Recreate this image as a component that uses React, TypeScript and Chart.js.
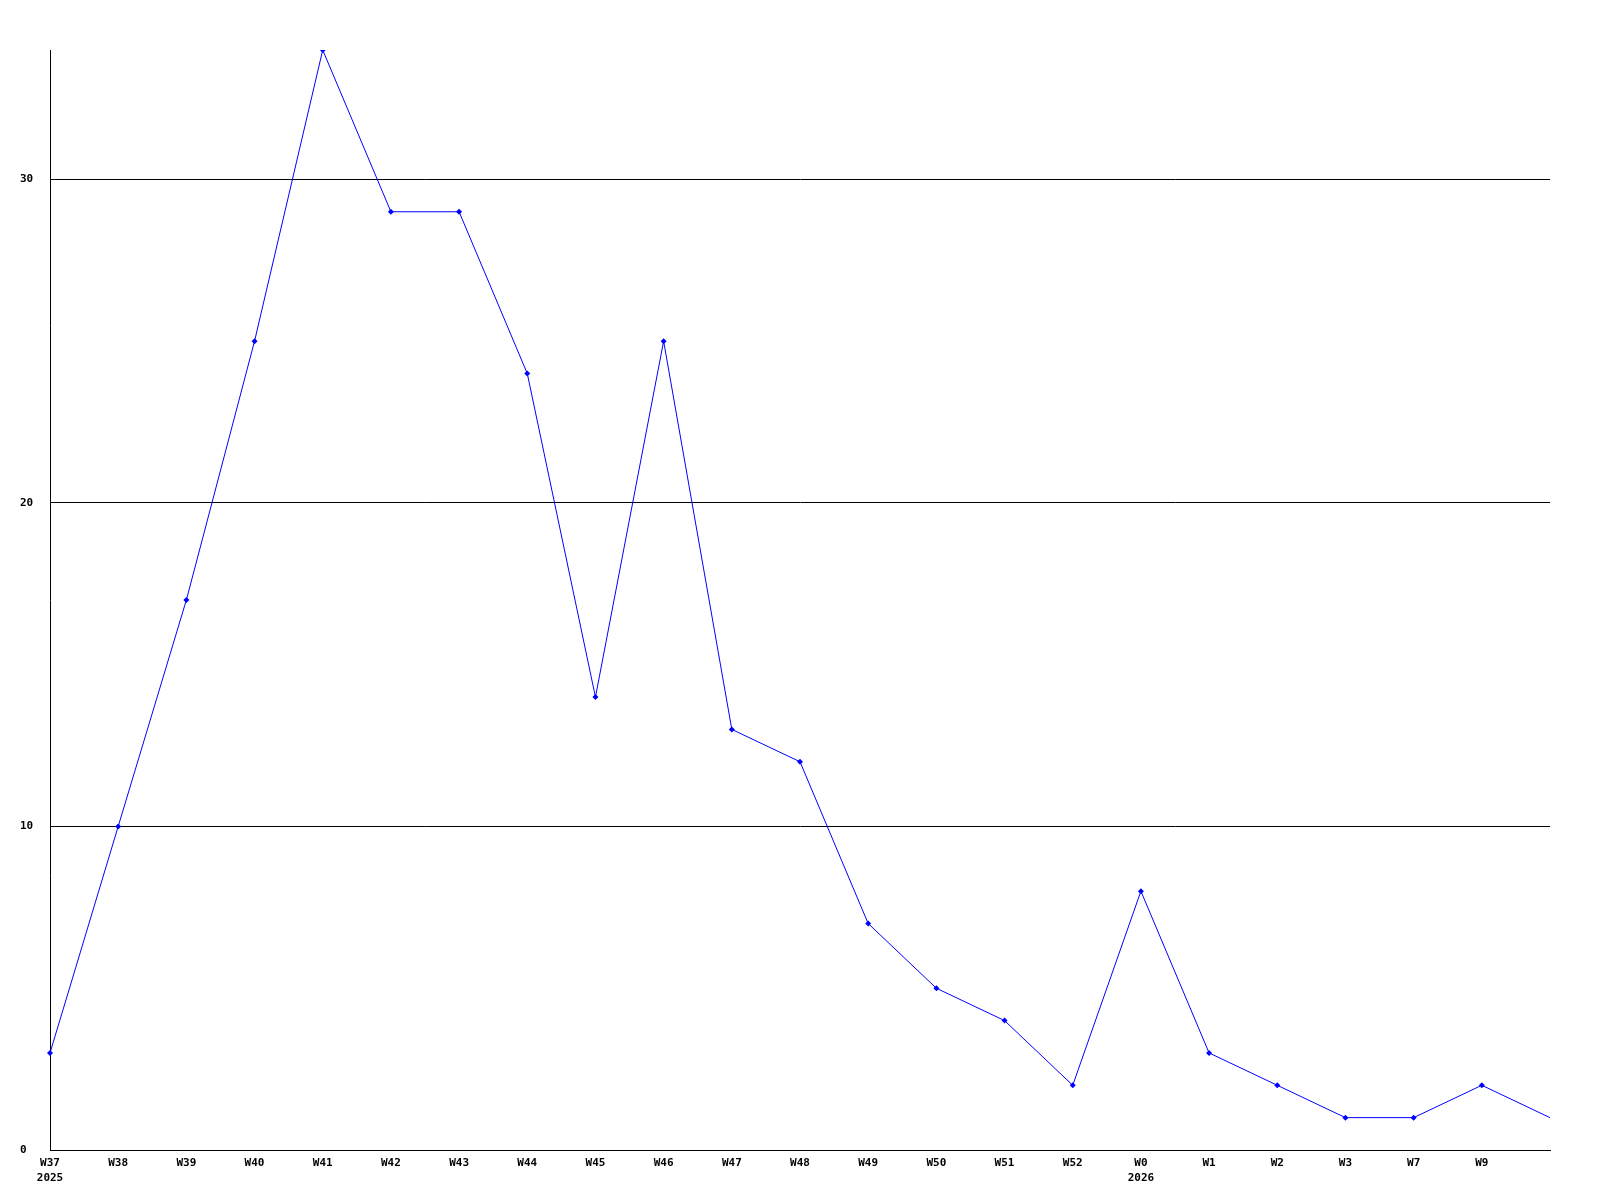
import React, { useEffect, useRef } from "react";
import { Chart, registerables } from "chart.js";

Chart.register(...registerables);

const weekLabels: (string | string[])[] = [
  ["W37", "2025"], "W38", "W39", "W40", "W41", "W42", "W43", "W44", "W45", "W46",
  "W47", "W48", "W49", "W50", "W51", "W52", ["W0", "2026"], "W1", "W2", "W3", "W7", "W9", "",
];
const counts: number[] = [3, 10, 17, 25, 34, 29, 29, 24, 14, 25, 13, 12, 7, 5, 4, 2, 8, 3, 2, 1, 1, 2, 1];
const yMax = 34;
const yStep = 10;

export default function App() {
  const ref = useRef<HTMLCanvasElement | null>(null);
  useEffect(() => {
    if (!ref.current) return;
    const font = { family: "'DejaVu Sans Mono', monospace", size: 11, weight: "bold" as const, lineHeight: 1.25 };
    const xFont = { ...font, lineHeight: 1.4 };
    const chart = new Chart(ref.current, {
      type: "line",
      data: {
        labels: weekLabels,
        datasets: [
          {
            data: counts,
            borderColor: "#0000ff",
            backgroundColor: "#0000ff",
            borderWidth: 1,
            pointStyle: "rectRot",
            pointRadius: counts.map((_, i) => (i === counts.length - 1 ? 0 : 3)),
            pointBorderWidth: 0,
            tension: 0,
            fill: false,
          },
        ],
      },
      options: {
        animation: false,
        responsive: false,
        devicePixelRatio: 1,
        layout: { padding: { left: 20, right: 50, top: 50, bottom: 0 } },
        plugins: { legend: { display: false }, tooltip: { enabled: false }, title: { display: false } },
        scales: {
          x: {
            type: "category",
            offset: false,
            grid: { display: false, drawTicks: false },
            border: { display: true, color: "#000", width: 1 },
            ticks: { color: "#000", font: xFont, padding: 5, maxRotation: 0, autoSkip: false },
            afterFit: (s: any) => { s.height = 50; },
          },
          y: {
            min: 0,
            max: yMax,
            grid: { color: "#000", lineWidth: 1, drawTicks: false },
            border: { display: true, color: "#000", width: 1 },
            ticks: { stepSize: yStep, includeBounds: false, color: "#000", font, crossAlign: "far", padding: 0 },
            afterFit: (s: any) => { s.width = 30; },
          },
        },
      },
    });
    return () => chart.destroy();
  }, []);
  return (
    <div style={{ position: "absolute", left: 0, top: 0, width: 1600, height: 1200, background: "#fff" }}>
      <canvas ref={ref} width={1600} height={1200} style={{ width: 1600, height: 1200 }} />
    </div>
  );
}
